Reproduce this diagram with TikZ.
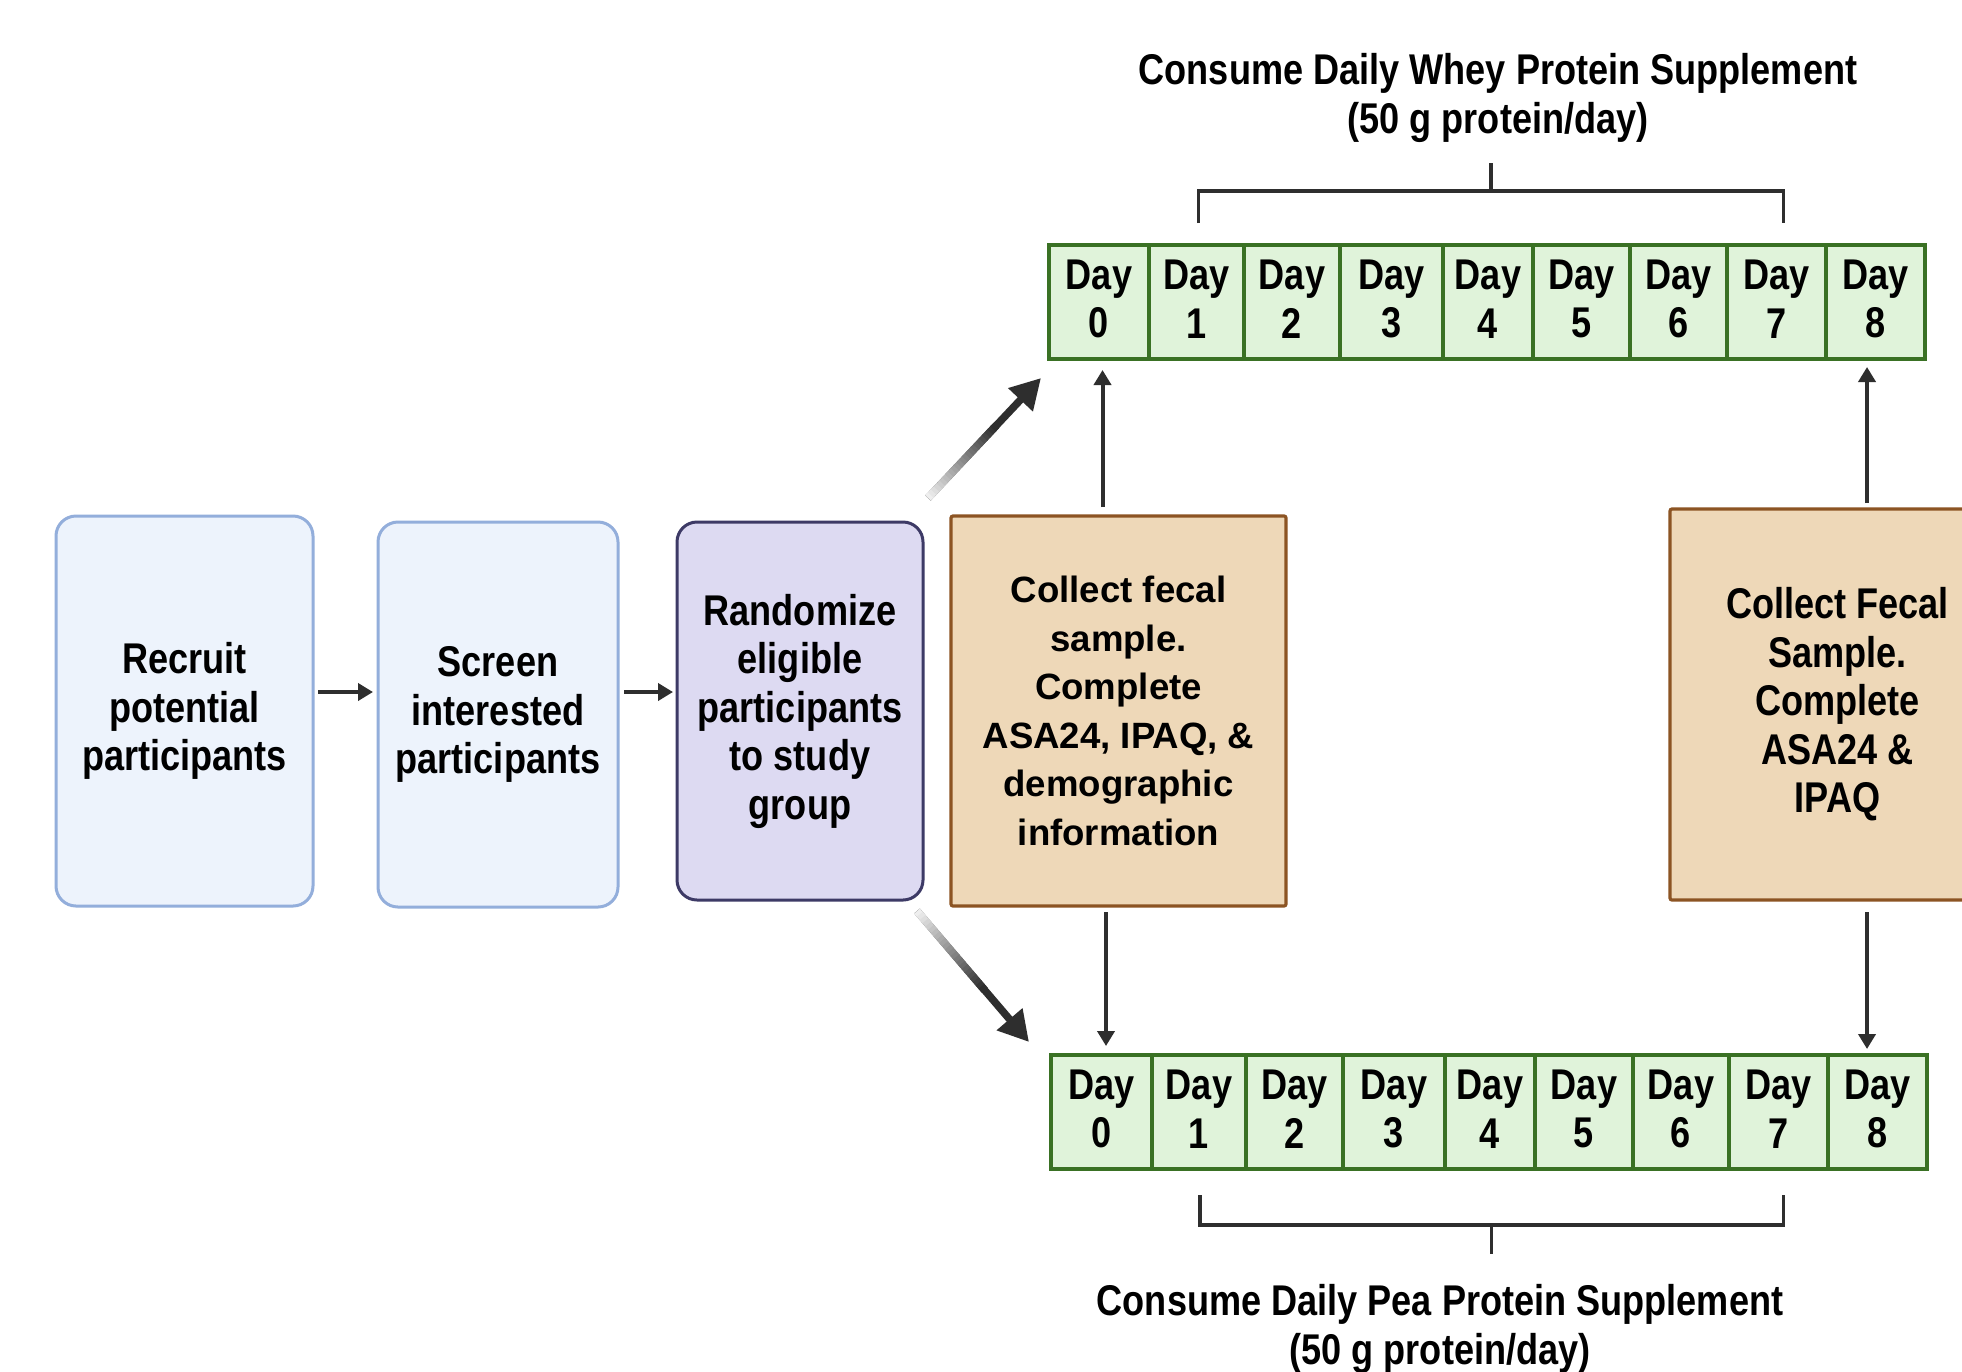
\documentclass[tikz,border=0pt]{standalone}
\usepackage{fontspec}
\setmainfont{Liberation Sans}
\newfontfamily\condfont{Liberation Sans}[FakeStretch=0.84]
\usetikzlibrary{arrows.meta,calc}

\definecolor{bluefill}{HTML}{EDF3FC}
\definecolor{blueline}{HTML}{93AEDB}
\definecolor{lavfill}{HTML}{DDDAF2}
\definecolor{lavline}{HTML}{3D3A66}
\definecolor{tanfill}{HTML}{EED8B8}
\definecolor{tanline}{HTML}{8C5423}
\definecolor{dayfill}{HTML}{E0F3DA}
\definecolor{dayline}{HTML}{3A7124}
\definecolor{ink}{HTML}{2E2E2E}

\begin{document}
\begin{tikzpicture}[x=0.5pt,y=-0.5pt,
  every node/.style={inner sep=0pt, outer sep=0pt},
  condtext/.style={font=\condfont\bfseries\fontsize{21.5}{24.25}\selectfont, align=center, text=black},
  widetext/.style={font=\bfseries\fontsize{18.3}{24.25}\selectfont, align=center, text=black},
  stepbox/.style={condtext, draw=blueline, fill=bluefill, line width=1.5pt, rounded corners=10pt},
  randbox/.style={condtext, draw=lavline, fill=lavfill, line width=1.5pt, rounded corners=10pt},
  samplebox/.style={draw=tanline, fill=tanfill, line width=1.6pt, rounded corners=1pt},
  daycell/.style={draw=dayline, fill=dayfill, line width=2pt},
  smallarrow/.style={draw=ink, line width=2pt, -{Triangle[width=8.5pt,length=7.5pt]}},
  bigarrow/.style={draw=ink, line width=3.75pt, -{Triangle[width=16pt,length=15pt]}},
  bracket/.style={draw=ink, line width=1.6pt}
]
\useasboundingbox (0,0) rectangle (1962,1371);
\fill[white] (0,0) rectangle (1962,1371);

% enrolment steps
\node[stepbox, minimum width=128.5pt, minimum height=195pt] (rec) at (184.5,711)
  {Recruit\\potential\\participants};
\node[stepbox, minimum width=120pt, minimum height=192.5pt] (scr) at (498,714.5)
  {Screen\\interested\\participants};
\node[randbox, minimum width=123pt, minimum height=189pt] (rand) at (800,711)
  {Randomize\\eligible\\participants\\to study\\group};

% sample collection boxes
\node[samplebox, widetext, minimum width=167.5pt, minimum height=195pt] (fec1) at (1118.5,711)
  {Collect fecal\\sample.\\Complete\\ASA24, IPAQ, \&\\demographic\\information};
\node[samplebox, condtext, minimum width=167.5pt, minimum height=195.5pt] (fec2) at (1837.5,704.5)
  {Collect Fecal\\Sample.\\Complete\\ASA24 \&\\IPAQ};

% day timelines: cells first, then their labels
\foreach \a/\b [count=\i from 0] in {1049/1149,1149/1244,1244/1340,1340/1443,1443/1533,1533/1630,1630/1727,1727/1826,1826/1925}{
  \pgfmathsetmacro\w{(\b-\a)/2}
  \node[daycell, minimum width=\w pt, minimum height=57pt] (top\i) at ({(\a+\b)/2},302) {};
  \node[condtext] (topl\i) at ({(\a+\b)/2},299) {Day\\\i};
}
\foreach \a/\b [count=\i from 0] in {1051/1152,1152/1246,1246/1343,1343/1445,1445/1535,1535/1633,1633/1729,1729/1828,1828/1927}{
  \pgfmathsetmacro\w{(\b-\a)/2}
  \node[daycell, minimum width=\w pt, minimum height=57pt] (bot\i) at ({(\a+\b)/2},1112) {};
  \node[condtext] (botl\i) at ({(\a+\b)/2},1109) {Day\\\i};
}

% supplement labels and brackets
\node[condtext] (whey) at (1498,98) {Consume Daily Whey Protein Supplement\\(50 g protein/day)};
\node[condtext] (pea) at (1440,1329) {Consume Daily Pea Protein Supplement\\(50 g protein/day)};

\coordinate (wl) at ([xshift=1pt,yshift=11pt]top1.north);
\coordinate (wr) at ([xshift=3.5pt,yshift=11pt]top7.north);
\draw[bracket] (wl) -- ++(0,-32) -| (wr);
\draw[bracket] ($(wl)!0.5!(wr)+(0,-32)$) -- ++(0,-28);

\coordinate (pl) at ([xshift=0.5pt,yshift=-13pt]bot1.south);
\coordinate (pr) at ([xshift=2.5pt,yshift=-13pt]bot7.south);
\draw[bracket] (pl) -- ++(0,30) -| (pr);
\draw[bracket] ($(pl)!0.5!(pr)+(0,30)$) -- ++(0,29);

% flow between steps
\draw[smallarrow, shorten <=2.5pt, shorten >=2.5pt] ([yshift=9.5pt]rec.east) -- ([yshift=9.5pt]rec.east -| scr.west);
\draw[smallarrow, shorten <=3pt, shorten >=2pt] ([yshift=11.25pt]scr.east) -- ([yshift=11.25pt]scr.east -| rand.west);

% randomisation into the two groups
\coordinate (d1s) at ([xshift=2.5pt,yshift=12pt]rand.north east);
\coordinate (d1e) at ([xshift=-4pt,yshift=-9.5pt]top0.south west);
\coordinate (d2s) at ([xshift=-3pt,yshift=-5.5pt]rand.south east);
\coordinate (d2e) at ([xshift=-11pt,yshift=6.5pt]bot0.north west);
\draw[bigarrow] (d1s) -- (d1e);
\draw[bigarrow] (d2s) -- (d2e);
\foreach \s/\e in {d1s/d1e,d2s/d2e}{
  \foreach \k in {0,...,23}{
    \pgfmathsetmacro\pa{\k/40}
    \pgfmathsetmacro\pb{(\k+1.2)/40}
    \pgfmathsetmacro\pct{8+92*\k/23}
    \draw[line width=3.9pt, draw=ink!\pct!white] ($(\s)!\pa!(\e)$) -- ($(\s)!\pb!(\e)$);
  }
}

% sample collection on day 0 and day 8
\draw[smallarrow, shorten <=4.5pt, shorten >=5.5pt] ([xshift=-8pt]fec1.north) -- ([xshift=-8pt]fec1.north |- top0.south);
\draw[smallarrow, shorten <=3pt, shorten >=4.5pt] ([xshift=-6.25pt]fec1.south) -- ([xshift=-6.25pt]fec1.south |- bot0.north);
\draw[smallarrow, shorten <=3pt, shorten >=4pt] ([xshift=14.75pt]fec2.north) -- ([xshift=14.75pt]fec2.north |- top8.south);
\draw[smallarrow, shorten <=6pt, shorten >=3pt] ([xshift=14.75pt]fec2.south) -- ([xshift=14.75pt]fec2.south |- bot8.north);
\end{tikzpicture}
\end{document}
